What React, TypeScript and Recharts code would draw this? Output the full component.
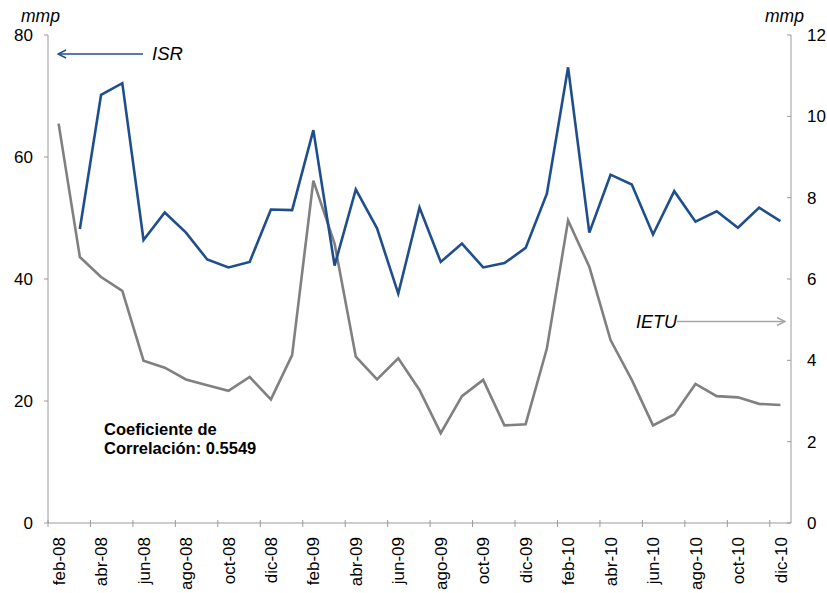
import React from "react";
import { LineChart, Line, XAxis, YAxis } from "recharts";

// monthly series, feb-08 .. dic-10
const months = [
  "feb-08", "mar-08", "abr-08", "may-08", "jun-08", "jul-08", "ago-08", "sep-08", "oct-08", "nov-08", "dic-08",
  "ene-09", "feb-09", "mar-09", "abr-09", "may-09", "jun-09", "jul-09", "ago-09", "sep-09", "oct-09", "nov-09", "dic-09",
  "ene-10", "feb-10", "mar-10", "abr-10", "may-10", "jun-10", "jul-10", "ago-10", "sep-10", "oct-10", "nov-10", "dic-10",
];
const isr = [
  null, 48.2, 70.2, 72.1, 46.4, 50.9, 47.6, 43.2, 41.9, 42.8, 51.4,
  51.3, 64.4, 42.2, 54.7, 48.3, 37.6, 51.7, 42.8, 45.8, 41.9, 42.6, 45.1,
  54.0, 74.7, 47.6, 57.1, 55.5, 47.3, 54.4, 49.4, 51.1, 48.4, 51.7, 49.5,
];
const ietu = [
  9.82, 6.54, 6.05, 5.71, 3.99, 3.82, 3.53, 3.39, 3.25, 3.59, 3.04,
  4.13, 8.42, 6.87, 4.09, 3.53, 4.05, 3.27, 2.21, 3.12, 3.52, 2.4, 2.43,
  4.29, 7.44, 6.3, 4.5, 3.52, 2.4, 2.67, 3.42, 3.12, 3.09, 2.93, 2.9,
];
const leftTicks = [0, 20, 40, 60, 80];
const rightTicks = [0, 2, 4, 6, 8, 10, 12];

const data = months.map((m, i) => ({ month: m, isr: isr[i], ietu: ietu[i] }));

const W = 827;
const H = 593;
const LEFT_W = 48;
const RIGHT_W = 36;
const halfBand = (W - LEFT_W - RIGHT_W) / months.length / 2;
const axisColor = "#9a9a9a";
const blue = "#1f4e8c";
const font = "'Liberation Sans', Arial, sans-serif";

const MonthTick = (props: any) => {
  const { x, y, payload } = props;
  return (
    <g>
      <line x1={x - halfBand} x2={x - halfBand} y1={y - 3} y2={y + 4} stroke={axisColor} />
      <text
        transform={`translate(${x},${y + 14}) rotate(-90)`}
        textAnchor="end"
        dy="0.36em"
        fontSize={17}
        fontFamily={font}
        fill="#000"
      >
        {payload.value}
      </text>
    </g>
  );
};

const LeftTick = (props: any) => {
  const { x, y, payload } = props;
  return (
    <g>
      <line x1={x - 4} x2={x} y1={y} y2={y} stroke={axisColor} />
      <text x={x - 15} y={y} dy="0.36em" textAnchor="end" fontSize={17} fontFamily={font} fill="#000">
        {payload.value}
      </text>
    </g>
  );
};

const RightTick = (props: any) => {
  const { x, y, payload } = props;
  return (
    <g>
      <line x1={x - 4} x2={x} y1={y} y2={y} stroke={axisColor} />
      <text x={x + 16} y={y} dy="0.36em" textAnchor="start" fontSize={17} fontFamily={font} fill="#000">
        {payload.value}
      </text>
    </g>
  );
};

export default function App() {
  return (
    <div style={{ position: "absolute", left: 0, top: 0, width: W, height: H, background: "#fff" }}>
      <LineChart width={W} height={H} data={data} margin={{ top: 35, right: 0, bottom: 10, left: 0 }}>
        <XAxis
          dataKey="month"
          interval={1}
          height={60}
          padding={{ left: halfBand, right: halfBand }}
          stroke={axisColor}
          tickLine={false}
          tickSize={0}
          tickMargin={0}
          tick={<MonthTick />}
        />
        <YAxis
          yAxisId="left"
          domain={[0, 80]}
          ticks={leftTicks}
          width={LEFT_W}
          stroke={axisColor}
          tickLine={false}
          tickSize={0}
          tickMargin={0}
          tick={<LeftTick />}
        />
        <YAxis
          yAxisId="right"
          orientation="right"
          domain={[0, 12]}
          ticks={rightTicks}
          width={RIGHT_W}
          stroke={axisColor}
          tickLine={false}
          tickSize={0}
          tickMargin={0}
          tick={<RightTick />}
        />
        <Line
          yAxisId="right"
          dataKey="ietu"
          stroke="#808080"
          strokeWidth={2.6}
          dot={false}
          isAnimationActive={false}
        />
        <Line
          yAxisId="left"
          dataKey="isr"
          stroke={blue}
          strokeWidth={2.6}
          dot={false}
          isAnimationActive={false}
        />
      </LineChart>
      <svg width={W} height={H} style={{ position: "absolute", left: 0, top: 0, pointerEvents: "none" }}>
        <defs>
          <marker id="arrBlue" markerWidth="10" markerHeight="10" refX="9" refY="5" orient="auto" markerUnits="userSpaceOnUse">
            <path d="M1,1 L9,5 L1,9" fill="none" stroke={blue} strokeWidth="1.5" />
          </marker>
          <marker id="arrGray" markerWidth="10" markerHeight="10" refX="9" refY="5" orient="auto" markerUnits="userSpaceOnUse">
            <path d="M1,1 L9,5 L1,9" fill="none" stroke="#a6a6a6" strokeWidth="1.5" />
          </marker>
        </defs>
        <text x={21} y={22} fontSize={17.5} fontStyle="italic" fontFamily={font}>mmp</text>
        <text x={765} y={22} fontSize={17.5} fontStyle="italic" fontFamily={font}>mmp</text>
        <line x1={143} y1={54} x2={58} y2={54} stroke={blue} strokeWidth={1.5} markerEnd="url(#arrBlue)" />
        <text x={152} y={60} fontSize={18.5} fontStyle="italic" fontFamily={font}>ISR</text>
        <text x={636} y={328} fontSize={18} fontStyle="italic" fontFamily={font}>IETU</text>
        <line x1={677} y1={321.5} x2={785} y2={321.5} stroke="#a6a6a6" strokeWidth={1.5} markerEnd="url(#arrGray)" />
        <text x={104} y={435} fontSize={16.5} fontWeight="bold" fontFamily={font}>Coeficiente de</text>
        <text x={104} y={454} fontSize={16.5} fontWeight="bold" fontFamily={font}>Correlación: 0.5549</text>
      </svg>
    </div>
  );
}
